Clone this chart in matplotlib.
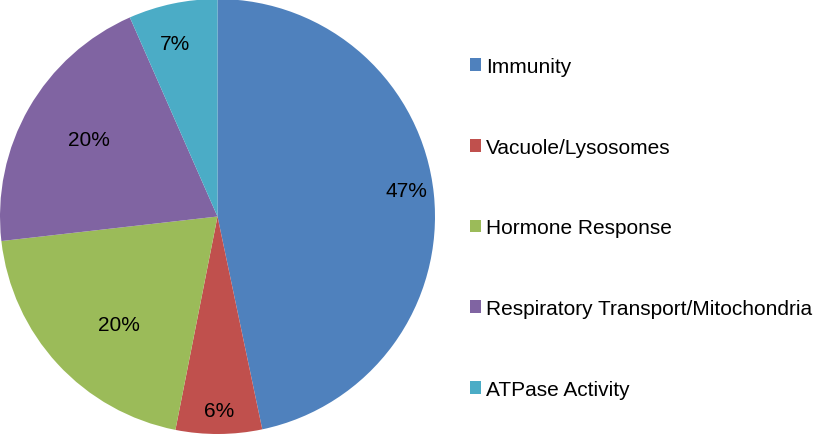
import matplotlib
matplotlib.use("Agg")
import matplotlib.pyplot as plt
import numpy as np

categories = ["Immunity", "Vacuole/Lysosomes", "Hormone Response",
              "Respiratory Transport/Mitochondria", "ATPase Activity"]
values = [46.7, 6.4, 20.1, 20.2, 6.6]
pct_labels = ["47%", "6%", "20%", "20%", "7%"]
colors = ["#4F81BD", "#C0504D", "#9BBB59", "#8064A2", "#4BACC6"]
label_dist = [0.875, 0.89, 0.67, 0.69, 0.82]
label_ang_shift = [2, 0, 5, -1, 2]

plt.rcParams['font.family'] = ['Liberation Sans', 'DejaVu Sans']

fig = plt.figure(figsize=(8.15, 4.35), dpi=100)
ax = fig.add_axes([0.0, 0.0, 435 / 815, 1.0])
wedges, _ = ax.pie(values, colors=colors, startangle=90, counterclock=False,
                   radius=1.0, wedgeprops=dict(linewidth=0))
ax.set_xlim(-1.0, 1.0)
ax.set_ylim(-1.0, 1.0)
ax.set_aspect('equal')
ax.axis('off')

for w, lab, d, s in zip(wedges, pct_labels, label_dist, label_ang_shift):
    ang = np.deg2rad((w.theta1 + w.theta2) / 2 + s)
    ax.text(d * np.cos(ang), d * np.sin(ang), lab, ha='center', va='center',
            fontsize=15, color='#000000')

leg = fig.legend(wedges, categories, loc='upper left',
                 bbox_to_anchor=(470 / 815, 1 - 58 / 435),
                 frameon=False, fontsize=15, handlelength=0.55, handleheight=0.55,
                 handletextpad=0.22, labelspacing=2.96, borderpad=0, borderaxespad=0)

fig.savefig("out.png", dpi=100)
